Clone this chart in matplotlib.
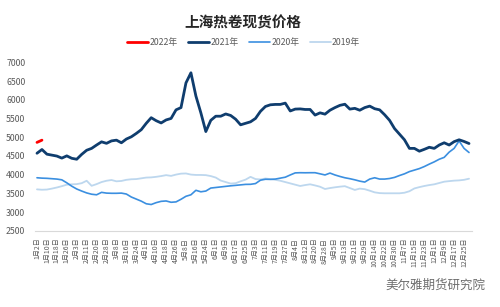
import numpy as np
import matplotlib
matplotlib.use("Agg")
import matplotlib.pyplot as plt

plt.rcParams['font.family'] = ['Noto Sans CJK SC', 'DejaVu Sans']

title = "上海热卷现货价格"
series_names = ["2022年", "2021年", "2020年", "2019年"]

tick_labels = ["1月2日", "1月10日", "1月18日", "1月26日", "2月3日", "2月11日", "2月20日", "2月28日",
               "3月8日", "3月16日", "3月24日", "4月1日", "4月10日", "4月18日", "4月26日",
               "5月8日", "5月16日", "5月24日", "6月1日", "6月9日", "6月17日", "6月25日",
               "7月3日", "7月11日", "7月19日", "7月27日", "8月4日", "8月12日", "8月20日",
               "8月28日", "9月5日", "9月13日", "9月21日", "9月29日", "10月14日", "10月22日",
               "10月30日", "11月7日", "11月15日", "11月23日", "12月1日", "12月9日",
               "12月17日", "12月25日"]

v2022 = [4860, 4920]

v2021 = [4570, 4670, 4545, 4520, 4495, 4440, 4500, 4435, 4410, 4540,
         4650, 4700, 4790, 4875, 4835, 4900, 4920, 4850, 4950, 5010,
         5100, 5200, 5370, 5520, 5440, 5380, 5460, 5500, 5730, 5790,
         6450, 6720, 6100, 5650, 5150, 5450, 5560, 5560, 5620, 5580,
         5480, 5330, 5370, 5410, 5500, 5690, 5820, 5865, 5875, 5875,
         5910, 5700, 5750, 5755, 5740, 5740, 5590, 5650, 5615, 5720,
         5790, 5850, 5880, 5750, 5770, 5720, 5790, 5830, 5760, 5730,
         5600, 5450, 5230, 5080, 4930, 4700, 4700, 4625, 4675, 4730,
         4700, 4790, 4850, 4790, 4880, 4930, 4885, 4830]

v2020 = [3915, 3905, 3900, 3890, 3880, 3860, 3780, 3690, 3615, 3560,
         3510, 3475, 3460, 3525, 3505, 3500, 3500, 3505, 3480, 3400,
         3345, 3290, 3220, 3200, 3250, 3285, 3295, 3260, 3270, 3340,
         3420, 3460, 3580, 3540, 3560, 3640, 3655, 3670, 3685, 3700,
         3712, 3725, 3738, 3740, 3760, 3850, 3875, 3872, 3880, 3905,
         3930, 3990, 4045, 4050, 4048, 4050, 4050, 4020, 3990, 4040,
         3990, 3950, 3915, 3890, 3860, 3825, 3800, 3880, 3915, 3880,
         3880, 3895, 3925, 3975, 4020, 4080, 4120, 4160, 4215, 4280,
         4340, 4410, 4460, 4600, 4700, 4900, 4700, 4590]

v2019 = [3605, 3595, 3600, 3625, 3655, 3690, 3730, 3740, 3745, 3770,
         3835, 3700, 3745, 3800, 3835, 3855, 3820, 3830, 3860, 3875,
         3880, 3900, 3920, 3925, 3940, 3960, 3985, 3965, 4000, 4025,
         4030, 4000, 3990, 3990, 3985, 3960, 3920, 3840, 3800, 3760,
         3770, 3820, 3865, 3940, 3880, 3870, 3895, 3880, 3860, 3835,
         3800, 3765, 3730, 3695, 3720, 3740, 3710, 3675, 3615, 3640,
         3660, 3677, 3690, 3640, 3590, 3625, 3610, 3570, 3525, 3505,
         3500, 3500, 3500, 3500, 3515, 3555, 3630, 3665, 3695, 3720,
         3740, 3775, 3810, 3825, 3838, 3845, 3860, 3890]

yticks = [2500, 3000, 3500, 4000, 4500, 5000, 5500, 6000, 6500, 7000]

colors = ["#FF0000", "#0F3D6E", "#3B8FE0", "#BDD7EE"]
widths = [2.0, 2.0, 1.2, 1.3]

fig = plt.figure(figsize=(5.0, 3.07), dpi=100)
ax = fig.add_axes([0.07, 0.2485, 0.874, 0.5485])

data = [v2022, v2021, v2020, v2019]
order = [3, 2, 1, 0]
handles = {}
for k in order:
    vals = data[k]
    x = np.arange(len(vals))
    ln, = ax.plot(x, vals, color=colors[k], lw=widths[k], solid_joinstyle='round',
                  solid_capstyle='round', zorder=2 + (3 - k), label=series_names[k])
    handles[k] = ln

ax.set_ylim(2500, 7000)
ax.set_yticks(yticks)
ax.set_xlim(-0.4, 87.6)
ax.set_xticks(np.arange(len(tick_labels)) * 2)
ax.set_xticklabels(tick_labels, rotation=90, fontsize=5, color="#595959")
ax.tick_params(axis='x', length=0, pad=5)
ax.tick_params(axis='y', length=0, pad=7, labelsize=6.3, labelcolor="#595959")

for s in ["top", "right", "left"]:
    ax.spines[s].set_visible(False)
ax.spines["bottom"].set_color("#D9D9D9")
ax.spines["bottom"].set_linewidth(0.8)

fig.text(0.485, 0.928, title, ha='center', va='center', fontsize=10.5,
         fontweight='bold', color="#262626")

leg = fig.legend([handles[k] for k in range(4)], series_names, loc='center',
                 bbox_to_anchor=(0.487, 0.862), ncol=4, frameon=False,
                 fontsize=6.3, handlelength=2.4, handletextpad=0.15,
                 columnspacing=1.2)
for t in leg.get_texts():
    t.set_color("#595959")

fig.text(0.97, 0.072, "美尔雅期货研究院", ha='right', va='center', fontsize=9,
         color="#6E6E6E")

fig.savefig("out.png", dpi=100)
